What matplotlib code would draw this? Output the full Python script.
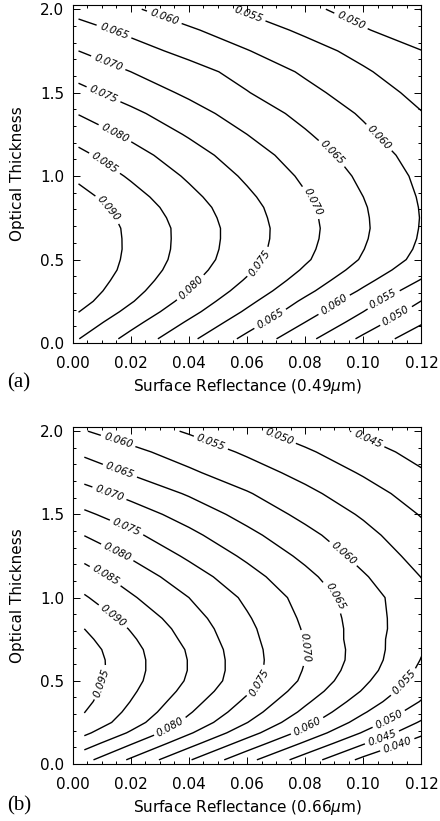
import numpy as np
import matplotlib
matplotlib.use('Agg')
import matplotlib.pyplot as plt
from matplotlib.ticker import MultipleLocator, FormatStrFormatter

plt.rcParams['font.family'] = 'DejaVu Sans'
plt.rcParams['mathtext.fontset'] = 'dejavusans'

# optical thickness rows of both tables
tau = [0.025, 0.125, 0.1875, 0.25, 0.3125, 0.375, 0.4375, 0.5, 0.5625,
       0.625, 0.6875, 0.75, 0.8125, 0.875, 1.0, 1.125, 1.25, 1.375, 1.5,
       1.625, 1.75, 1.875, 2.0]

# 0.49 um: surface reflectance columns and the tabulated values
rho_a = [0.002, 0.02, 0.04, 0.06, 0.08, 0.10, 0.12]
val_a = [
    [0.0851, 0.0784, 0.0711, 0.0637, 0.0564, 0.0490, 0.0416],
    [0.0881, 0.0816, 0.0744, 0.0672, 0.0600, 0.0528, 0.0456],
    [0.0901, 0.0836, 0.0765, 0.0693, 0.0622, 0.0550, 0.0478],
    [0.0918, 0.0854, 0.0783, 0.0712, 0.0641, 0.0570, 0.0499],
    [0.0929, 0.0867, 0.0799, 0.0730, 0.0662, 0.0593, 0.0524],
    [0.0936, 0.0877, 0.0811, 0.0745, 0.0679, 0.0613, 0.0547],
    [0.0942, 0.0885, 0.0821, 0.0758, 0.0694, 0.0631, 0.0568],
    [0.0944, 0.0889, 0.0828, 0.0767, 0.0706, 0.0645, 0.0584],
    [0.0945, 0.0891, 0.0831, 0.0771, 0.0711, 0.0651, 0.0591],
    [0.0944, 0.0891, 0.0832, 0.0773, 0.0714, 0.0655, 0.0595],
    [0.0942, 0.0890, 0.0832, 0.0773, 0.0715, 0.0657, 0.0597],
    [0.0937, 0.0885, 0.0828, 0.0770, 0.0713, 0.0656, 0.0598],
    [0.0928, 0.0878, 0.0822, 0.0766, 0.0710, 0.0654, 0.0597],
    [0.0917, 0.0868, 0.0813, 0.0759, 0.0704, 0.0650, 0.0595],
    [0.0890, 0.0844, 0.0793, 0.0742, 0.0691, 0.0640, 0.0589],
    [0.0862, 0.0819, 0.0771, 0.0723, 0.0675, 0.0627, 0.0579],
    [0.0831, 0.0790, 0.0745, 0.0700, 0.0655, 0.0610, 0.0565],
    [0.0798, 0.0761, 0.0719, 0.0677, 0.0636, 0.0594, 0.0552],
    [0.0764, 0.0729, 0.0691, 0.0652, 0.0614, 0.0575, 0.0536],
    [0.0733, 0.0700, 0.0668, 0.0633, 0.0593, 0.0556, 0.0520],
    [0.0700, 0.0669, 0.0636, 0.0602, 0.0569, 0.0535, 0.0501],
    [0.0668, 0.0639, 0.0606, 0.0574, 0.0541, 0.0504, 0.0472],
    [0.0634, 0.0606, 0.0574, 0.0543, 0.0511, 0.0480, 0.0449],
]
levels_a = [0.045, 0.050, 0.055, 0.060, 0.065, 0.070, 0.075, 0.080, 0.085, 0.090]

# 0.66 um
rho_b = [0.004, 0.02, 0.04, 0.06, 0.08, 0.10, 0.12]
val_b = [
    [0.0814, 0.0743, 0.0654, 0.0565, 0.0476, 0.0387, 0.0305],
    [0.0874, 0.0805, 0.0718, 0.0630, 0.0543, 0.0455, 0.0373],
    [0.0910, 0.0844, 0.0756, 0.0670, 0.0583, 0.0496, 0.0412],
    [0.0940, 0.0872, 0.0786, 0.0701, 0.0615, 0.0529, 0.0444],
    [0.0951, 0.0888, 0.0805, 0.0723, 0.0639, 0.0555, 0.0473],
    [0.0962, 0.0899, 0.0820, 0.0740, 0.0658, 0.0577, 0.0497],
    [0.0969, 0.0908, 0.0834, 0.0756, 0.0676, 0.0596, 0.0514],
    [0.0973, 0.0915, 0.0844, 0.0768, 0.0690, 0.0610, 0.0527],
    [0.0977, 0.0918, 0.0848, 0.0771, 0.0696, 0.0621, 0.0540],
    [0.0976, 0.0918, 0.0848, 0.0771, 0.0700, 0.0627, 0.0548],
    [0.0971, 0.0915, 0.0845, 0.0769, 0.0700, 0.0628, 0.0554],
    [0.0961, 0.0907, 0.0837, 0.0765, 0.0697, 0.0626, 0.0558],
    [0.0950, 0.0897, 0.0830, 0.0761, 0.0695, 0.0627, 0.0562],
    [0.0936, 0.0884, 0.0821, 0.0755, 0.0691, 0.0626, 0.0563],
    [0.0905, 0.0856, 0.0800, 0.0741, 0.0682, 0.0622, 0.0563],
    [0.0873, 0.0828, 0.0773, 0.0718, 0.0663, 0.0605, 0.0549],
    [0.0837, 0.0795, 0.0742, 0.0691, 0.0639, 0.0584, 0.0532],
    [0.0799, 0.0761, 0.0712, 0.0663, 0.0614, 0.0565, 0.0516],
    [0.0759, 0.0724, 0.0680, 0.0633, 0.0587, 0.0544, 0.0497],
    [0.0719, 0.0686, 0.0645, 0.0604, 0.0562, 0.0521, 0.0477],
    [0.0677, 0.0646, 0.0608, 0.0572, 0.0535, 0.0495, 0.0455],
    [0.0641, 0.0612, 0.0578, 0.0543, 0.0507, 0.0470, 0.0434],
    [0.0602, 0.0576, 0.0545, 0.0511, 0.0477, 0.0442, 0.0410],
]
levels_b = [0.040, 0.045, 0.050, 0.055, 0.060, 0.065, 0.070, 0.075, 0.080,
            0.085, 0.090, 0.095]

# where the contour labels go
spots_a = [(0.0312, 1.936), (0.0599, 1.947), (0.0954, 1.917), (0.014, 1.857),
           (0.0117, 1.656), (0.0105, 1.486), (0.0151, 1.276), (0.0117, 1.096),
           (0.0897, 1.146), (0.1057, 1.236), (0.0117, 0.796), (0.0816, 0.836),
           (0.0633, 0.496), (0.0409, 0.326), (0.0679, 0.146), (0.0897, 0.236),
           (0.1074, 0.245), (0.1115, 0.155)]
spots_b = [(0.0157, 1.945), (0.0472, 1.915), (0.0707, 1.955), (0.1011, 1.935),
           (0.0163, 1.765), (0.0128, 1.635), (0.0191, 1.445), (0.0157, 1.285),
           (0.0117, 1.145), (0.0931, 1.265), (0.0897, 1.0), (0.0146, 0.905),
           (0.0105, 0.485), (0.0335, 0.225), (0.0633, 0.505), (0.0793, 0.695),
           (0.0805, 0.235), (0.1149, 0.475), (0.108, 0.295), (0.1063, 0.165),
           (0.1115, 0.125)]


def panel(ax, rho, val, levels, spots, xlabel):
    cs = ax.contour(rho, tau, np.array(val), levels=levels, colors='k',
                    linewidths=1.0)
    texts = ax.clabel(cs, fmt='%.3f', manual=spots, fontsize=7.5,
                      inline=True, inline_spacing=4)
    for t in texts:
        t.set_fontstyle('italic')
    ax.set_xlim(0, 0.12)
    ax.set_ylim(0, 2.025)
    ax.xaxis.set_major_locator(MultipleLocator(0.02))
    ax.xaxis.set_minor_locator(MultipleLocator(0.005))
    ax.yaxis.set_major_locator(MultipleLocator(0.5))
    ax.yaxis.set_minor_locator(MultipleLocator(0.1))
    ax.xaxis.set_major_formatter(FormatStrFormatter('%.2f'))
    ax.yaxis.set_major_formatter(FormatStrFormatter('%.1f'))
    ax.tick_params(which='both', direction='in', top=True, right=True,
                   labelsize=11, width=0.7)
    ax.tick_params(which='major', length=5)
    ax.tick_params(which='minor', length=2.5)
    ax.tick_params(axis='x', pad=9)
    ax.tick_params(axis='y', pad=6)
    for s in ax.spines.values():
        s.set_linewidth(0.8)
    ax.set_xlabel(xlabel, fontsize=11, labelpad=5)
    ax.set_ylabel('Optical Thickness', fontsize=11, labelpad=11)


fig = plt.figure(figsize=(4.4, 8.21), dpi=100)
ax_a = fig.add_axes([0.1652, 0.5822, 0.7927, 0.4117])
ax_b = fig.add_axes([0.1652, 0.0694, 0.7927, 0.4105])

panel(ax_a, rho_a, val_a, levels_a, spots_a,
      r'Surface Reflectance (0.49$\mu$m)')
panel(ax_b, rho_b, val_b, levels_b, spots_b,
      r'Surface Reflectance (0.66$\mu$m)')

fig.text(7 / 440, 1 - 383 / 821, '(a)', family='Liberation Serif',
         fontsize=15, va='center', ha='left')
fig.text(7 / 440, 1 - 806 / 821, '(b)', family='Liberation Serif',
         fontsize=15, va='center', ha='left')

fig.savefig('out.png', dpi=100)
